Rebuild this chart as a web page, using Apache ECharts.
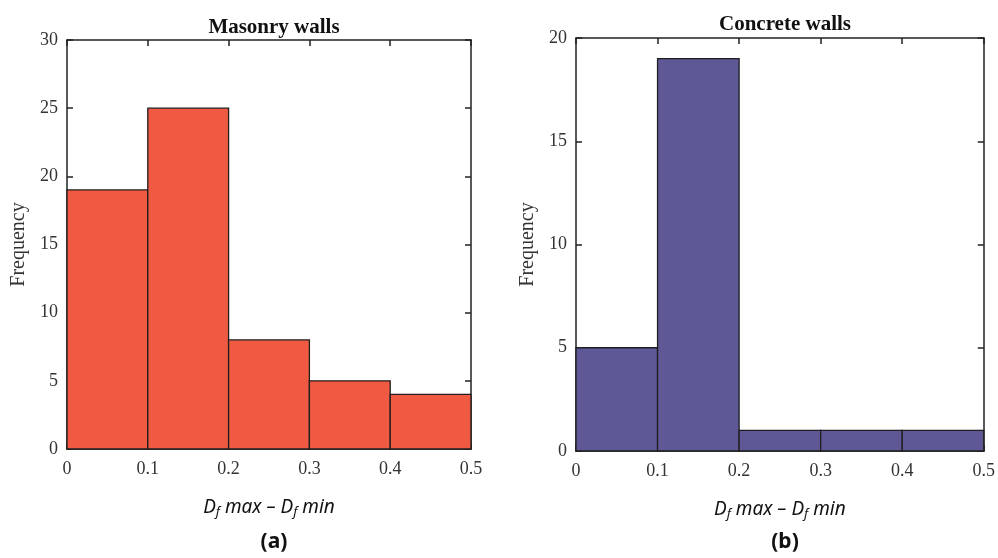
<!DOCTYPE html>
<html>
<head>
<meta charset="utf-8">
<script src="https://cdn.jsdelivr.net/npm/echarts@6/dist/echarts.min.js"></script>
<style>
html, body { margin: 0; padding: 0; background: #fff; }
#main { width: 998px; height: 558px; }
</style>
</head>
<body>
<div id="main"></div>
<script>
// histogram data: bin edges and counts
var binEdges = [0, 0.1, 0.2, 0.3, 0.4, 0.5];
var masonryCounts = [19, 25, 8, 5, 4];
var concreteCounts = [5, 19, 1, 1, 1];
var xTicks = [0, 0.1, 0.2, 0.3, 0.4, 0.5];
var masonryYTicks = [0, 5, 10, 15, 20, 25, 30];
var concreteYTicks = [0, 5, 10, 15, 20];

function toBins(counts){
	var arr = [];
	for(var i = 0; i < counts.length; i++){
		arr.push([binEdges[i], binEdges[i + 1], counts[i]]);
	}
	return arr;
}

function barRender(color){
	return function(params, api){
		var p0 = api.coord([api.value(0), 0]);
		var p1 = api.coord([api.value(1), api.value(2)]);
		return {
			type: 'rect',
			shape: {x: p0[0], y: p1[1], width: p1[0] - p0[0], height: p0[1] - p1[1]},
			style: {fill: color, stroke: '#1e1e1e', lineWidth: 1.3}
		};
	};
}

var lineCol = '#222';
var serif = 'Liberation Serif';
var xName = '{i|D}{s|f}{i| max – }{i|D}{s|f}{i| min}';
var nameRich = {
	i: {fontFamily: 'Noto Sans', fontStyle: 'italic', fontSize: 19, color: '#111'},
	s: {fontFamily: 'Noto Sans', fontStyle: 'italic', fontSize: 13, color: '#111', padding: [9, 0, 0, 0]}
};

function xAxisDef(grid, pos){
	var bottom = pos === 'bottom';
	return {
		type: 'value', gridIndex: grid, position: pos,
		min: xTicks[0], max: xTicks[xTicks.length - 1], interval: 0.1,
		axisLine: {show: true, onZero: false, lineStyle: {color: lineCol, width: 1.5}},
		axisTick: {show: true, inside: true, length: 6, lineStyle: {color: lineCol, width: 1.5}},
		axisLabel: {show: bottom, margin: 11, fontFamily: serif, fontSize: 18, color: '#333'},
		splitLine: {show: false},
		name: bottom ? xName : '', nameLocation: 'middle', nameGap: 48,
		nameTextStyle: {rich: nameRich}
	};
}

function yAxisDef(grid, pos, ticks){
	var left = pos === 'left';
	return {
		type: 'value', gridIndex: grid, position: pos,
		min: ticks[0], max: ticks[ticks.length - 1], interval: 5,
		axisLine: {show: true, onZero: false, lineStyle: {color: lineCol, width: 1.5}},
		axisTick: {show: true, inside: true, length: 6, lineStyle: {color: lineCol, width: 1.5}},
		axisLabel: {show: left, margin: 9, fontFamily: serif, fontSize: 18, color: '#333'},
		splitLine: {show: false},
		name: left ? 'Frequency' : '', nameLocation: 'middle', nameGap: 38,
		nameTextStyle: {fontFamily: serif, fontSize: 20, color: '#333'}
	};
}

var chart = echarts.init(document.getElementById('main'));
var option = {
	backgroundColor: '#fff',
	animation: false,
	title: [
		{text: 'Masonry walls', left: 269, top: 12, textAlign: 'center',
			textStyle: {fontFamily: serif, fontWeight: 'bold', fontSize: 21, color: '#111'}},
		{text: 'Concrete walls', left: 780, top: 9, textAlign: 'center',
			textStyle: {fontFamily: serif, fontWeight: 'bold', fontSize: 21, color: '#111'}},
		{text: '(a)', left: 269, top: 527, textAlign: 'center',
			textStyle: {fontFamily: 'Noto Sans', fontWeight: 'bold', fontSize: 21, color: '#111'}},
		{text: '(b)', left: 780, top: 527, textAlign: 'center',
			textStyle: {fontFamily: 'Noto Sans', fontWeight: 'bold', fontSize: 21, color: '#111'}}
	],
	grid: [
		{left: 67, top: 40, width: 404, height: 409},
		{left: 576, top: 38, width: 409, height: 413}
	],
	xAxis: [
		xAxisDef(0, 'bottom'), xAxisDef(0, 'top'),
		xAxisDef(1, 'bottom'), xAxisDef(1, 'top')
	],
	yAxis: [
		yAxisDef(0, 'left', masonryYTicks), yAxisDef(0, 'right', masonryYTicks),
		yAxisDef(1, 'left', concreteYTicks), yAxisDef(1, 'right', concreteYTicks)
	],
	series: [
		{name: 'Masonry walls', type: 'custom', xAxisIndex: 0, yAxisIndex: 0,
			renderItem: barRender('#f05a42'), data: toBins(masonryCounts), encode: {x: [0, 1], y: 2}},
		{name: 'Concrete walls', type: 'custom', xAxisIndex: 2, yAxisIndex: 2,
			renderItem: barRender('#5e5897'), data: toBins(concreteCounts), encode: {x: [0, 1], y: 2}}
	]
};
chart.setOption(option);
</script>
</body>
</html>
